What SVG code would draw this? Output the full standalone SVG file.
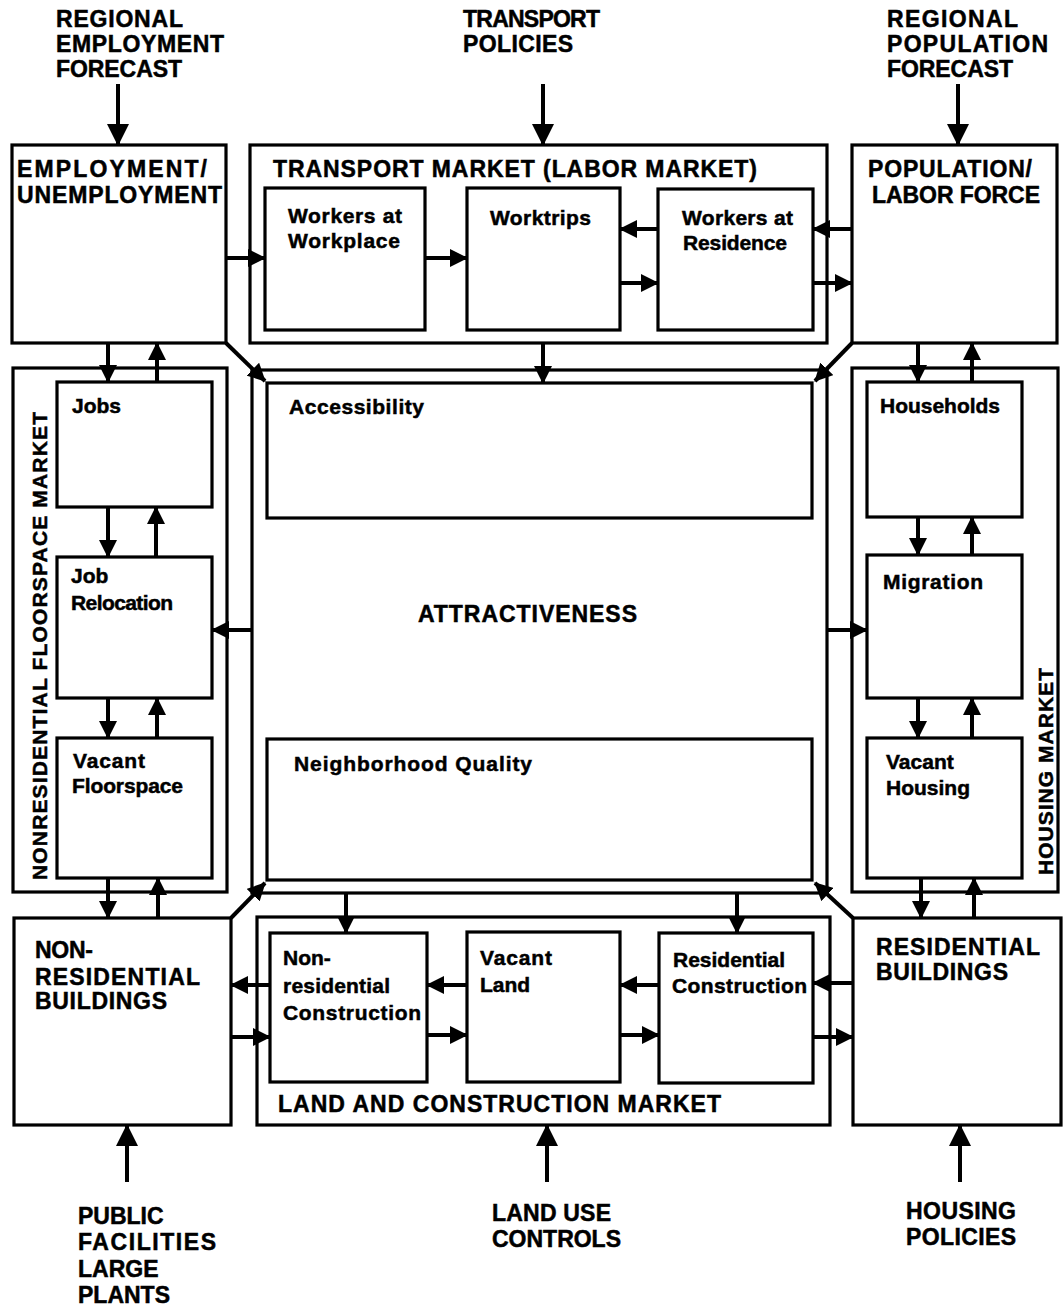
<svg xmlns="http://www.w3.org/2000/svg" width="1064" height="1308" viewBox="0 0 1064 1308">
<defs>
<style>
.bx{fill:none;stroke:#000;stroke-width:3.2}
.t{font-family:"Liberation Sans",Arial,Helvetica,sans-serif;font-weight:bold;fill:#000;stroke:#000;stroke-width:0.5}
.cap{font-size:23px}
.lbl{font-size:21px}
.ca{fill:none;stroke:#000;stroke-width:4;marker-end:url(#ah)}
.cb{fill:none;stroke:#000;stroke-width:4;marker-end:url(#ahb)}
</style>
<marker id="ah" markerUnits="userSpaceOnUse" markerWidth="18" markerHeight="18" refX="17" refY="9" orient="auto">
<path d="M0,0 L18,9 L0,18 z" fill="#000"/>
</marker>
<marker id="ahb" markerUnits="userSpaceOnUse" markerWidth="22" markerHeight="22" refX="21" refY="11" orient="auto">
<path d="M0,0 L22,11 L0,22 z" fill="#000"/>
</marker>
</defs>
<rect width="1064" height="1308" fill="#fff"/>

<g id="input-employment-forecast">
<text class="t cap" x="56" y="27" textLength="127">REGIONAL</text>
<text class="t cap" x="56" y="52" textLength="168">EMPLOYMENT</text>
<text class="t cap" x="56" y="77" textLength="126">FORECAST</text>
</g>
<g id="input-transport-policies">
<text class="t cap" x="463" y="27" textLength="137">TRANSPORT</text>
<text class="t cap" x="463" y="52" textLength="110">POLICIES</text>
</g>
<g id="input-population-forecast">
<text class="t cap" x="887" y="27" textLength="131">REGIONAL</text>
<text class="t cap" x="887" y="52" textLength="161">POPULATION</text>
<text class="t cap" x="887" y="77" textLength="126">FORECAST</text>
</g>

<g id="employment">
<rect class="bx" x="12" y="145" width="214" height="198"/>
<text class="t cap" x="17" y="177" textLength="190">EMPLOYMENT/</text>
<text class="t cap" x="17" y="203" textLength="205">UNEMPLOYMENT</text>
</g>

<g id="transport-market">
<rect class="bx" x="250" y="145" width="577" height="198"/>
<text class="t cap" x="273" y="177" textLength="484">TRANSPORT MARKET (LABOR MARKET)</text>
</g>
<g id="workers-workplace">
<rect class="bx" x="265" y="188" width="160" height="142"/>
<text class="t lbl" x="288" y="223" textLength="114">Workers at</text>
<text class="t lbl" x="288" y="248" textLength="112">Workplace</text>
</g>
<g id="worktrips">
<rect class="bx" x="467" y="188" width="153" height="142"/>
<text class="t lbl" x="490" y="225" textLength="101">Worktrips</text>
</g>
<g id="workers-residence">
<rect class="bx" x="658" y="189" width="155" height="141"/>
<text class="t lbl" x="682" y="225" textLength="111">Workers at</text>
<text class="t lbl" x="683" y="250" textLength="104">Residence</text>
</g>

<g id="population">
<rect class="bx" x="852" y="145" width="205" height="198"/>
<text class="t cap" x="868" y="177" textLength="164">POPULATION/</text>
<text class="t cap" x="872" y="203" textLength="168">LABOR FORCE</text>
</g>

<g id="nonresidential-floorspace-market">
<rect class="bx" x="13" y="368" width="214" height="524"/>
<text class="t lbl" transform="translate(47,880) rotate(-90)" x="0" y="0" textLength="468">NONRESIDENTIAL FLOORSPACE MARKET</text>
</g>
<g id="jobs">
<rect class="bx" x="57" y="382" width="155" height="125"/>
<text class="t lbl" x="72" y="413">Jobs</text>
</g>
<g id="job-relocation">
<rect class="bx" x="57" y="557" width="155" height="141"/>
<text class="t lbl" x="71" y="583">Job</text>
<text class="t lbl" x="71" y="610" textLength="102">Relocation</text>
</g>
<g id="vacant-floorspace">
<rect class="bx" x="57" y="738" width="155" height="140"/>
<text class="t lbl" x="73" y="768" textLength="72">Vacant</text>
<text class="t lbl" x="72" y="793" textLength="111">Floorspace</text>
</g>

<g id="attractiveness">
<rect class="bx" x="252" y="370" width="575" height="523"/>
<text class="t cap" x="418" y="622" textLength="219">ATTRACTIVENESS</text>
</g>
<g id="accessibility">
<rect class="bx" x="267" y="383" width="545" height="135"/>
<text class="t lbl" x="289" y="414" textLength="135">Accessibility</text>
</g>
<g id="neighborhood-quality">
<rect class="bx" x="267" y="739" width="545" height="141"/>
<text class="t lbl" x="294" y="771" textLength="238">Neighborhood Quality</text>
</g>

<g id="housing-market">
<rect class="bx" x="852" y="368" width="206" height="524"/>
<text class="t lbl" transform="translate(1053,875) rotate(-90)" x="0" y="0" textLength="207">HOUSING MARKET</text>
</g>
<g id="households">
<rect class="bx" x="867" y="382" width="155" height="135"/>
<text class="t lbl" x="880" y="413" textLength="120">Households</text>
</g>
<g id="migration">
<rect class="bx" x="867" y="555" width="155" height="143"/>
<text class="t lbl" x="883" y="589" textLength="100">Migration</text>
</g>
<g id="vacant-housing">
<rect class="bx" x="867" y="738" width="155" height="140"/>
<text class="t lbl" x="886" y="769">Vacant</text>
<text class="t lbl" x="886" y="795">Housing</text>
</g>

<g id="nonresidential-buildings">
<rect class="bx" x="14" y="918" width="217" height="207"/>
<text class="t cap" x="35" y="958" textLength="58">NON-</text>
<text class="t cap" x="35" y="985" textLength="165">RESIDENTIAL</text>
<text class="t cap" x="35" y="1009" textLength="132">BUILDINGS</text>
</g>

<g id="land-construction-market">
<rect class="bx" x="257" y="917" width="573" height="208"/>
<text class="t cap" x="278" y="1112" textLength="443">LAND AND CONSTRUCTION MARKET</text>
</g>
<g id="nonresidential-construction">
<rect class="bx" x="270" y="933" width="157" height="149"/>
<text class="t lbl" x="283" y="965">Non-</text>
<text class="t lbl" x="283" y="993" textLength="107">residential</text>
<text class="t lbl" x="283" y="1020" textLength="138">Construction</text>
</g>
<g id="vacant-land">
<rect class="bx" x="467" y="932" width="153" height="150"/>
<text class="t lbl" x="480" y="965" textLength="72">Vacant</text>
<text class="t lbl" x="480" y="992">Land</text>
</g>
<g id="residential-construction">
<rect class="bx" x="659" y="933" width="154" height="150"/>
<text class="t lbl" x="673" y="967" textLength="112">Residential</text>
<text class="t lbl" x="672" y="993" textLength="135">Construction</text>
</g>

<g id="residential-buildings">
<rect class="bx" x="853" y="918" width="208" height="207"/>
<text class="t cap" x="876" y="955" textLength="164">RESIDENTIAL</text>
<text class="t cap" x="876" y="980" textLength="132">BUILDINGS</text>
</g>

<g id="input-public-facilities">
<text class="t cap" x="78" y="1224">PUBLIC</text>
<text class="t cap" x="78" y="1250" textLength="138">FACILITIES</text>
<text class="t cap" x="78" y="1277">LARGE</text>
<text class="t cap" x="78" y="1303">PLANTS</text>
</g>
<g id="input-land-use-controls">
<text class="t cap" x="492" y="1221" textLength="119">LAND USE</text>
<text class="t cap" x="492" y="1247" textLength="129">CONTROLS</text>
</g>
<g id="input-housing-policies">
<text class="t cap" x="906" y="1219" textLength="110">HOUSING</text>
<text class="t cap" x="906" y="1245" textLength="110">POLICIES</text>
</g>

<g id="connectors">
<line class="cb" x1="118" y1="84" x2="118" y2="145"/>
<line class="cb" x1="543" y1="84" x2="543" y2="145"/>
<line class="cb" x1="958" y1="84" x2="958" y2="145"/>
<line class="cb" x1="127" y1="1182" x2="127" y2="1125"/>
<line class="cb" x1="547" y1="1182" x2="547" y2="1125"/>
<line class="cb" x1="960" y1="1182" x2="960" y2="1125"/>
<line class="ca" x1="226" y1="258" x2="265" y2="258"/>
<line class="ca" x1="425" y1="258" x2="467" y2="258"/>
<line class="ca" x1="658" y1="229" x2="620" y2="229"/>
<line class="ca" x1="620" y1="283" x2="658" y2="283"/>
<line class="ca" x1="852" y1="229" x2="813" y2="229"/>
<line class="ca" x1="813" y1="283" x2="852" y2="283"/>
<line class="ca" x1="543" y1="343" x2="543" y2="383"/>
<line class="ca" x1="108" y1="343" x2="108" y2="382"/>
<line class="ca" x1="157" y1="382" x2="157" y2="343"/>
<line class="ca" x1="108" y1="507" x2="108" y2="557"/>
<line class="ca" x1="156" y1="557" x2="156" y2="507"/>
<line class="ca" x1="108" y1="698" x2="108" y2="738"/>
<line class="ca" x1="157" y1="738" x2="157" y2="698"/>
<line class="ca" x1="108" y1="878" x2="108" y2="918"/>
<line class="ca" x1="158" y1="918" x2="158" y2="878"/>
<line class="ca" x1="918" y1="343" x2="918" y2="382"/>
<line class="ca" x1="972" y1="382" x2="972" y2="343"/>
<line class="ca" x1="918" y1="517" x2="918" y2="555"/>
<line class="ca" x1="972" y1="555" x2="972" y2="517"/>
<line class="ca" x1="918" y1="698" x2="918" y2="738"/>
<line class="ca" x1="972" y1="738" x2="972" y2="698"/>
<line class="ca" x1="921" y1="878" x2="921" y2="918"/>
<line class="ca" x1="974" y1="918" x2="974" y2="878"/>
<line class="ca" x1="252" y1="630" x2="212" y2="630"/>
<line class="ca" x1="827" y1="630" x2="867" y2="630"/>
<line class="ca" x1="346" y1="893" x2="346" y2="933"/>
<line class="ca" x1="737" y1="893" x2="737" y2="933"/>
<line class="ca" x1="270" y1="985" x2="231" y2="985"/>
<line class="ca" x1="231" y1="1037" x2="270" y2="1037"/>
<line class="ca" x1="467" y1="985" x2="427" y2="985"/>
<line class="ca" x1="427" y1="1035" x2="467" y2="1035"/>
<line class="ca" x1="659" y1="985" x2="620" y2="985"/>
<line class="ca" x1="620" y1="1035" x2="659" y2="1035"/>
<line class="ca" x1="853" y1="983" x2="813" y2="983"/>
<line class="ca" x1="813" y1="1037" x2="853" y2="1037"/>
<line class="ca" x1="226" y1="343" x2="265" y2="381"/>
<line class="ca" x1="852" y1="343" x2="815" y2="381"/>
<line class="ca" x1="231" y1="918" x2="265" y2="883"/>
<line class="ca" x1="853" y1="918" x2="815" y2="883"/>
</g>
</svg>
